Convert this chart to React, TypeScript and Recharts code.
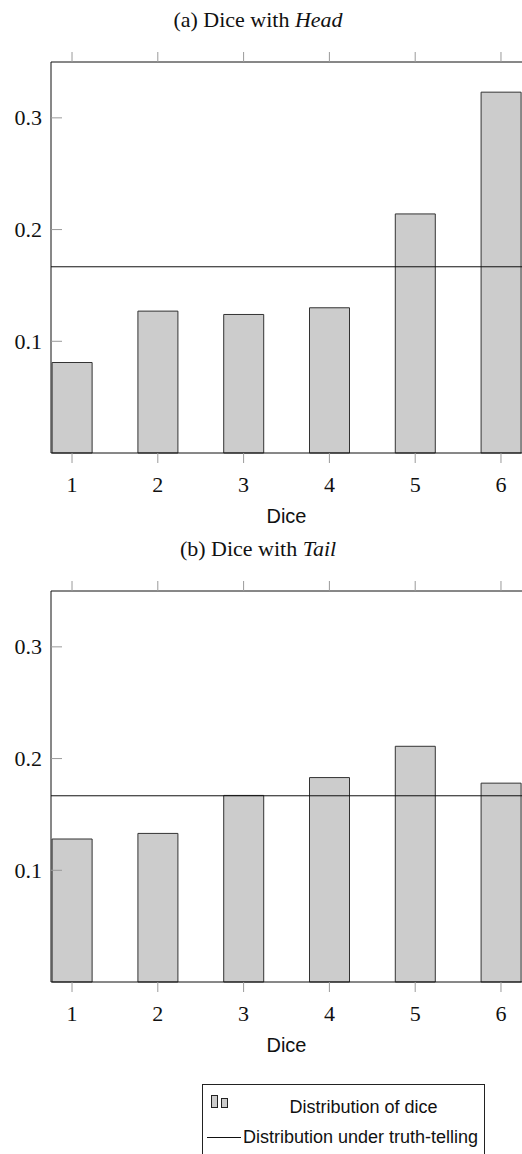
import { BarChart, Bar, XAxis, YAxis, ReferenceLine } from 'recharts';

const dice = [1, 2, 3, 4, 5, 6];
const headShares = [0.081, 0.127, 0.124, 0.13, 0.214, 0.323];
const tailShares = [0.128, 0.133, 0.167, 0.183, 0.211, 0.178];
const truthTelling = 0.1667;
const yTicks = [0.1, 0.2, 0.3];

const SERIF = '"Liberation Serif", "Times New Roman", serif';
const SANS = '"Liberation Sans", Arial, sans-serif';
const TICK_GRAY = '#9a9a9a';

const LeftTick = (props: any) => {
  const { x, y, payload } = props;
  return (
    <g>
      <line x1={x} x2={x + 11} y1={y} y2={y} stroke={TICK_GRAY} />
      <text x={x - 9} y={y} textAnchor="end" dominantBaseline="central" fontFamily={SERIF} fontSize={22} fill="#111">
        {payload.value}
      </text>
    </g>
  );
};

const RightTick = (props: any) => {
  const { x, y } = props;
  return <line x1={x - 11} x2={x} y1={y} y2={y} stroke={TICK_GRAY} />;
};

const BottomTick = (props: any) => {
  const { x, y, payload } = props;
  return (
    <g>
      <line x1={x} x2={x} y1={y} y2={y + 10} stroke={TICK_GRAY} />
      <text x={x} y={y + 31} textAnchor="middle" dominantBaseline="central" fontFamily={SERIF} fontSize={22} fill="#111">
        {payload.value}
      </text>
    </g>
  );
};

const TopTick = (props: any) => {
  const { x, y } = props;
  return <line x1={x} x2={x} y1={y - 10} y2={y} stroke={TICK_GRAY} />;
};

function Panel({ label, emph, values }: { label: string; emph: string; values: number[] }) {
  const data = dice.map((d, i) => ({ dice: d, share: values[i] }));
  return (
    <div style={{ position: 'relative', width: 522, height: 529 }}>
      <div
        style={{
          position: 'absolute',
          top: 6,
          left: 0,
          width: 516,
          textAlign: 'center',
          fontFamily: SERIF,
          fontSize: 22,
          lineHeight: '28px',
          color: '#111',
        }}
      >
        {label} <i>{emph}</i>
      </div>
      <BarChart width={522} height={529} data={data} margin={{ top: 50, right: 0, bottom: 0, left: 0 }}>
        <XAxis
          dataKey="dice"
          type="number"
          domain={[0.755, 6.245]}
          ticks={dice}
          allowDataOverflow
          height={76}
          tickSize={0}
          tickMargin={0}
          axisLine={{ stroke: '#111' }}
          tickLine={false}
          tick={<BottomTick />}
        />
        <XAxis
          xAxisId="top"
          orientation="top"
          dataKey="dice"
          type="number"
          domain={[0.755, 6.245]}
          ticks={dice}
          allowDataOverflow
          height={12}
          tickSize={0}
          tickMargin={0}
          axisLine={{ stroke: '#111' }}
          tickLine={false}
          tick={<TopTick />}
        />
        <YAxis
          type="number"
          domain={[0, 0.35]}
          ticks={yTicks}
          width={51}
          tickSize={0}
          tickMargin={0}
          axisLine={{ stroke: '#111' }}
          tickLine={false}
          tick={<LeftTick />}
        />
        <YAxis
          yAxisId="r"
          orientation="right"
          type="number"
          domain={[0, 0.35]}
          ticks={yTicks}
          width={0}
          tickSize={0}
          tickMargin={0}
          axisLine={{ stroke: '#111' }}
          tickLine={false}
          tick={<RightTick />}
        />
        <Bar dataKey="share" barSize={40} fill="#cccccc" stroke="#333" strokeWidth={1} isAnimationActive={false} />
        <ReferenceLine y={truthTelling} stroke="#111" strokeWidth={1} />
      </BarChart>
      <div
        style={{
          position: 'absolute',
          top: 502,
          left: 51,
          width: 471,
          textAlign: 'center',
          fontFamily: SANS,
          fontSize: 20,
          lineHeight: '28px',
          color: '#111',
        }}
      >
        Dice
      </div>
    </div>
  );
}

export default function App() {
  return (
    <div
      style={{
        position: 'absolute',
        top: 0,
        left: 0,
        width: 522,
        height: 1154,
        overflow: 'hidden',
        background: '#fff',
      }}
    >
      <Panel label="(a) Dice with" emph="Head" values={headShares} />
      <Panel label="(b) Dice with" emph="Tail" values={tailShares} />
      <div
        style={{
          position: 'absolute',
          top: 1084,
          left: 202,
          width: 283,
          height: 90,
          border: '1px solid #222',
          boxSizing: 'border-box',
          fontFamily: SANS,
          fontSize: 18,
          color: '#111',
        }}
      >
        <svg width={40} height={60} style={{ position: 'absolute', left: 0, top: 0 }}>
          <rect x={8.5} y={10.5} width={6} height={12} fill="#cccccc" stroke="#222" />
          <rect x={18.5} y={13.5} width={6} height={9} fill="#cccccc" stroke="#222" />
          <line x1={4} x2={38} y1={52.5} y2={52.5} stroke="#111" />
        </svg>
        <div style={{ position: 'absolute', left: 40, right: 0, top: 8, textAlign: 'center', lineHeight: '28px' }}>
          Distribution of dice
        </div>
        <div style={{ position: 'absolute', left: 40, right: 0, top: 38, textAlign: 'left', lineHeight: '28px', whiteSpace: 'nowrap' }}>
          Distribution under truth-telling
        </div>
      </div>
    </div>
  );
}
